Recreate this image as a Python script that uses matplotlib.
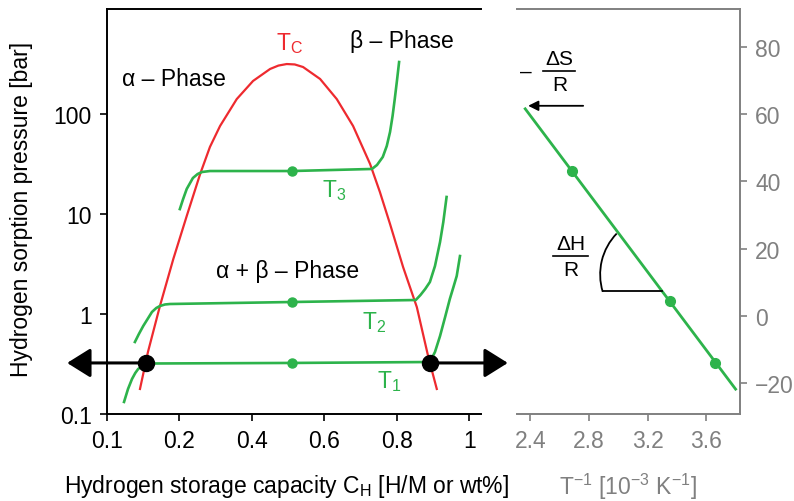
import numpy as np
import matplotlib
matplotlib.use('Agg')
import matplotlib.pyplot as plt
import matplotlib.patches as patches
import matplotlib.transforms as mtransforms

plt.rcParams['font.family'] = ['Liberation Sans', 'DejaVu Sans']
plt.rcParams['mathtext.fontset'] = 'custom'
plt.rcParams['mathtext.rm'] = 'Liberation Sans'
plt.rcParams['mathtext.it'] = 'Liberation Sans:italic'
plt.rcParams['mathtext.bf'] = 'Liberation Sans:bold'

RED = '#ee2a2f'
GREEN = '#2db34b'
GRAY = '#808080'
FS = 16.5

# critical dome (T_C)
dome_x = [0.091, 0.113, 0.146, 0.183, 0.220, 0.257, 0.284, 0.312, 0.358, 0.403, 0.450, 0.473,
          0.496, 0.518, 0.541, 0.588, 0.634, 0.679, 0.726, 0.753, 0.781, 0.817, 0.855, 0.886,
          0.910]
dome_p = [0.178, 0.417, 1.20, 3.55, 9.55, 25.1, 46.8, 75.9, 141, 214, 282, 305,
          316, 313, 295, 224, 141, 75.9, 31.6, 16.6, 7.94, 2.95, 1.17, 0.38,
          0.178]

# isotherms
t3_x = [0.201, 0.210, 0.220, 0.237, 0.250, 0.262, 0.284, 0.510, 0.731, 0.745, 0.761, 0.772,
        0.781, 0.788, 0.794, 0.800, 0.806]
t3_p = [11.2, 14.1, 17.8, 22.9, 25.1, 26.3, 26.9, 26.9, 28.2, 30.9, 37.2, 47.9,
        66.1, 95.5, 141, 214, 331]
t2_x = [0.077, 0.088, 0.100, 0.112, 0.124, 0.136, 0.146, 0.160, 0.174, 0.510, 0.852, 0.865,
        0.878, 0.891, 0.905, 0.919, 0.928, 0.937]
t2_p = [0.525, 0.631, 0.759, 0.891, 1.047, 1.148, 1.202, 1.245, 1.259, 1.318, 1.380, 1.549,
        1.778, 2.089, 3.02, 5.25, 8.32, 14.8]
t1_x = [0.047, 0.058, 0.069, 0.078, 0.086, 0.098, 0.110, 0.130, 0.510, 0.891, 0.905, 0.919,
        0.933, 0.946, 0.956, 0.965, 0.974]
t1_p = [0.132, 0.178, 0.224, 0.257, 0.282, 0.302, 0.316, 0.320, 0.324, 0.331, 0.417, 0.603,
        0.933, 1.413, 1.862, 2.40, 3.80]
mid_x = [0.510, 0.510, 0.510]
mid_p = [26.9, 1.318, 0.324]

edge_x = [0.107, 0.891]
edge_p = [0.324, 0.324]

cap_ticks = [0, 0.2, 0.4, 0.6, 0.8, 1.0]
cap_labels = ['0.1', '0.2', '0.4', '0.6', '0.8', '1']
p_ticks = [0.1, 1, 10, 100]
p_labels = ['0.1', '1', '10', '100']

# van 't Hoff plot
vh_line_x = [2.366, 3.80]
vh_line_y = [61.6, -21.8]
vh_pts_x = [2.686, 3.35, 3.66]
vh_pts_y = [43.2, 4.3, -14.0]
inv_t_ticks = [2.4, 2.8, 3.2, 3.6]
ln_ticks = [-20, 0, 20, 40, 60, 80]

fig = plt.figure(figsize=(7.94, 5.02), dpi=100, facecolor='w')
ax = fig.add_axes([107/794, 87/502, 374/794, 405/502])
ax2 = fig.add_axes([517/794, 87/502, 223/794, 405/502])

# ---- left panel
ax.plot(dome_x, dome_p, color=RED, lw=1.6, zorder=2)
for xs, ps in [(t3_x, t3_p), (t2_x, t2_p), (t1_x, t1_p)]:
    ax.plot(xs, ps, color=GREEN, lw=1.9, zorder=3)
ax.plot(mid_x, mid_p, 'o', color=GREEN, ms=6.5, zorder=4)

for x0, x1 in [(edge_x[0], -0.110), (edge_x[1], 1.106)]:
    ax.annotate('', xy=(x1, edge_p[0]), xytext=(x0, edge_p[0]), annotation_clip=False,
                arrowprops=dict(arrowstyle='-|>,head_length=0.72,head_width=0.45',
                                mutation_scale=20, color='black', lw=2.2,
                                shrinkA=0, shrinkB=0), zorder=5)
ax.plot(edge_x, edge_p, 'o', color='black', ms=11.5, zorder=6, clip_on=False)

ax.set_yscale('log')
ax.set_xlim(0, 1.032)
ax.set_ylim(0.1, 1122)
ax.set_xticks(cap_ticks)
ax.set_xticklabels(cap_labels)
ax.set_yticks(p_ticks)
ax.set_yticklabels(p_labels)
ax.minorticks_off()
ax.tick_params(labelsize=FS, length=5, width=1.2, direction='out', pad=6)
ax.spines['right'].set_visible(False)
for s in ['top', 'left', 'bottom']:
    ax.spines[s].set_linewidth(1.4)

ax.text(0.041, 195, 'α – Phase', fontsize=FS, va='baseline')
ax.text(0.670, 468, 'β – Phase', fontsize=FS, va='baseline')
ax.text(0.300, 2.34, 'α + β – Phase', fontsize=FS, va='baseline')
ax.text(0.505, 447, r'T$_\mathrm{C}$', fontsize=FS, color=RED, ha='center', va='baseline')
ax.text(0.593, 15.1, r'T$_\mathrm{3}$', fontsize=FS, color=GREEN, va='baseline')
ax.text(0.703, 0.72, r'T$_\mathrm{2}$', fontsize=FS, color=GREEN, va='baseline')
ax.text(0.745, 0.186, r'T$_\mathrm{1}$', fontsize=FS, color=GREEN, va='baseline')

# ---- right panel
ax2.plot(vh_line_x, vh_line_y, color=GREEN, lw=2.0)
ax2.plot(vh_pts_x, vh_pts_y, 'o', color=GREEN, ms=7)
ax2.set_xlim(2.31, 3.83)
ax2.set_ylim(-29.2, 91.3)
ax2.set_xticks(inv_t_ticks)
ax2.set_yticks(ln_ticks)
ax2.yaxis.tick_right()
ax2.spines['left'].set_visible(False)
for s in ['top', 'right', 'bottom']:
    ax2.spines[s].set_color(GRAY)
    ax2.spines[s].set_linewidth(1.4)
ax2.tick_params(labelsize=FS, length=5, width=1.2, direction='out', pad=6,
                colors=GRAY)

# -dS/R intercept
ax2.annotate('', xy=(2.386, 62.5), xytext=(2.761, 62.5),
             arrowprops=dict(arrowstyle='-|>,head_length=0.5,head_width=0.25',
                             mutation_scale=12, color='black', lw=1.3,
                             shrinkA=0, shrinkB=0))
ax2.text(2.373, 72.9, '–', fontsize=15, ha='center', va='center')
ax2.text(2.600, 73.8, 'ΔS', fontsize=15, ha='center', va='bottom')
ax2.plot([2.489, 2.707], [72.9, 72.9], color='black', lw=1.2)
ax2.text(2.600, 71.8, 'R', fontsize=15, ha='center', va='top')

# dH/R slope
ax2.text(2.676, 18.6, 'ΔH', fontsize=15, ha='center', va='bottom')
ax2.plot([2.557, 2.795], [17.7, 17.7], color='black', lw=1.2)
ax2.text(2.676, 16.6, 'R', fontsize=15, ha='center', va='top')

arc_tr = fig.dpi_scale_trans + mtransforms.ScaledTranslation(3.279, 12.3, ax2.transData)
ax2.add_patch(patches.Arc((0, 0), 1.18, 1.18, theta1=136, theta2=197,
                          transform=arc_tr, color='black', lw=1.3))
ax2.plot([2.897, 3.30], [7.3, 7.3], color='black', lw=1.3)

fig.text(22/794, 1 - 209/502, 'Hydrogen sorption pressure [bar]', fontsize=FS,
         rotation=90, ha='center', va='center')
fig.text(287/794, 1 - 487/502, r'Hydrogen storage capacity C$_\mathrm{H}$ [H/M or wt%]',
         fontsize=FS, ha='center', va='center')
fig.text(628/794, 1 - 487/502, r'T$^{-1}$ [10$^{-3}$ K$^{-1}$]', fontsize=FS,
         color=GRAY, ha='center', va='center')

plt.savefig('out.png', dpi=100)
